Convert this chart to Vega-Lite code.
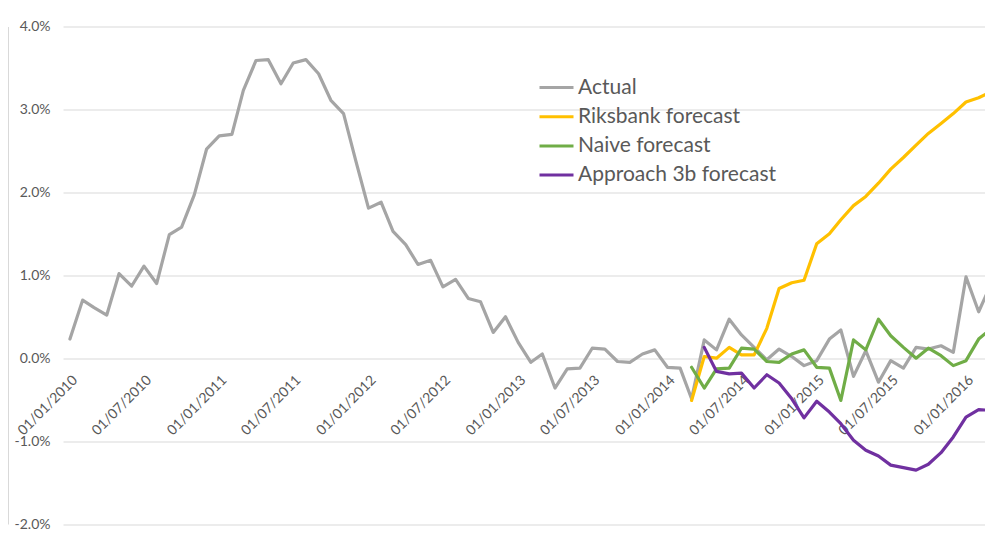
{
  "$schema": "https://vega.github.io/schema/vega-lite/v6.json",
  "width": 922,
  "height": 497.5,
  "autosize": {"type": "none"},
  "padding": {"left": 63, "top": 26.5, "right": 0, "bottom": 9},
  "background": "white",
  "config": {"view": {"stroke": null}, "font": "Lato"},
  "data": {
    "values": [
      {"date": "2010-01-01", "series": "Actual", "value": 0.23},
      {"date": "2010-02-01", "series": "Actual", "value": 0.70},
      {"date": "2010-03-01", "series": "Actual", "value": 0.61},
      {"date": "2010-04-01", "series": "Actual", "value": 0.52},
      {"date": "2010-05-01", "series": "Actual", "value": 1.02},
      {"date": "2010-06-01", "series": "Actual", "value": 0.87},
      {"date": "2010-07-01", "series": "Actual", "value": 1.11},
      {"date": "2010-08-01", "series": "Actual", "value": 0.90},
      {"date": "2010-09-01", "series": "Actual", "value": 1.49},
      {"date": "2010-10-01", "series": "Actual", "value": 1.58},
      {"date": "2010-11-01", "series": "Actual", "value": 1.97},
      {"date": "2010-12-01", "series": "Actual", "value": 2.52},
      {"date": "2011-01-01", "series": "Actual", "value": 2.68},
      {"date": "2011-02-01", "series": "Actual", "value": 2.70},
      {"date": "2011-03-01", "series": "Actual", "value": 3.23},
      {"date": "2011-04-01", "series": "Actual", "value": 3.59},
      {"date": "2011-05-01", "series": "Actual", "value": 3.60},
      {"date": "2011-06-01", "series": "Actual", "value": 3.31},
      {"date": "2011-07-01", "series": "Actual", "value": 3.56},
      {"date": "2011-08-01", "series": "Actual", "value": 3.60},
      {"date": "2011-09-01", "series": "Actual", "value": 3.43},
      {"date": "2011-10-01", "series": "Actual", "value": 3.11},
      {"date": "2011-11-01", "series": "Actual", "value": 2.95},
      {"date": "2011-12-01", "series": "Actual", "value": 2.38},
      {"date": "2012-01-01", "series": "Actual", "value": 1.81},
      {"date": "2012-02-01", "series": "Actual", "value": 1.88},
      {"date": "2012-03-01", "series": "Actual", "value": 1.53},
      {"date": "2012-04-01", "series": "Actual", "value": 1.37},
      {"date": "2012-05-01", "series": "Actual", "value": 1.13},
      {"date": "2012-06-01", "series": "Actual", "value": 1.18},
      {"date": "2012-07-01", "series": "Actual", "value": 0.86},
      {"date": "2012-08-01", "series": "Actual", "value": 0.95},
      {"date": "2012-09-01", "series": "Actual", "value": 0.72},
      {"date": "2012-10-01", "series": "Actual", "value": 0.68},
      {"date": "2012-11-01", "series": "Actual", "value": 0.31},
      {"date": "2012-12-01", "series": "Actual", "value": 0.50},
      {"date": "2013-01-01", "series": "Actual", "value": 0.19},
      {"date": "2013-02-01", "series": "Actual", "value": -0.05},
      {"date": "2013-03-01", "series": "Actual", "value": 0.05},
      {"date": "2013-04-01", "series": "Actual", "value": -0.36},
      {"date": "2013-05-01", "series": "Actual", "value": -0.13},
      {"date": "2013-06-01", "series": "Actual", "value": -0.12},
      {"date": "2013-07-01", "series": "Actual", "value": 0.12},
      {"date": "2013-08-01", "series": "Actual", "value": 0.11},
      {"date": "2013-09-01", "series": "Actual", "value": -0.04},
      {"date": "2013-10-01", "series": "Actual", "value": -0.05},
      {"date": "2013-11-01", "series": "Actual", "value": 0.05},
      {"date": "2013-12-01", "series": "Actual", "value": 0.10},
      {"date": "2014-01-01", "series": "Actual", "value": -0.11},
      {"date": "2014-02-01", "series": "Actual", "value": -0.12},
      {"date": "2014-03-01", "series": "Actual", "value": -0.49},
      {"date": "2014-04-01", "series": "Actual", "value": 0.22},
      {"date": "2014-05-01", "series": "Actual", "value": 0.10},
      {"date": "2014-06-01", "series": "Actual", "value": 0.47},
      {"date": "2014-07-01", "series": "Actual", "value": 0.28},
      {"date": "2014-08-01", "series": "Actual", "value": 0.13},
      {"date": "2014-09-01", "series": "Actual", "value": -0.02},
      {"date": "2014-10-01", "series": "Actual", "value": 0.11},
      {"date": "2014-11-01", "series": "Actual", "value": 0.02},
      {"date": "2014-12-01", "series": "Actual", "value": -0.09},
      {"date": "2015-01-01", "series": "Actual", "value": -0.03},
      {"date": "2015-02-01", "series": "Actual", "value": 0.23},
      {"date": "2015-03-01", "series": "Actual", "value": 0.34},
      {"date": "2015-04-01", "series": "Actual", "value": -0.22},
      {"date": "2015-05-01", "series": "Actual", "value": 0.09},
      {"date": "2015-06-01", "series": "Actual", "value": -0.29},
      {"date": "2015-07-01", "series": "Actual", "value": -0.03},
      {"date": "2015-08-01", "series": "Actual", "value": -0.12},
      {"date": "2015-09-01", "series": "Actual", "value": 0.13},
      {"date": "2015-10-01", "series": "Actual", "value": 0.11},
      {"date": "2015-11-01", "series": "Actual", "value": 0.15},
      {"date": "2015-12-01", "series": "Actual", "value": 0.07},
      {"date": "2016-01-01", "series": "Actual", "value": 0.98},
      {"date": "2016-02-01", "series": "Actual", "value": 0.56},
      {"date": "2016-03-01", "series": "Actual", "value": 0.88},

      {"date": "2014-03-01", "series": "Riksbank forecast", "value": -0.51},
      {"date": "2014-04-01", "series": "Riksbank forecast", "value": 0.02},
      {"date": "2014-05-01", "series": "Riksbank forecast", "value": 0.00},
      {"date": "2014-06-01", "series": "Riksbank forecast", "value": 0.13},
      {"date": "2014-07-01", "series": "Riksbank forecast", "value": 0.04},
      {"date": "2014-08-01", "series": "Riksbank forecast", "value": 0.04},
      {"date": "2014-09-01", "series": "Riksbank forecast", "value": 0.36},
      {"date": "2014-10-01", "series": "Riksbank forecast", "value": 0.84},
      {"date": "2014-11-01", "series": "Riksbank forecast", "value": 0.91},
      {"date": "2014-12-01", "series": "Riksbank forecast", "value": 0.94},
      {"date": "2015-01-01", "series": "Riksbank forecast", "value": 1.38},
      {"date": "2015-02-01", "series": "Riksbank forecast", "value": 1.50},
      {"date": "2015-03-01", "series": "Riksbank forecast", "value": 1.67},
      {"date": "2015-04-01", "series": "Riksbank forecast", "value": 1.84},
      {"date": "2015-05-01", "series": "Riksbank forecast", "value": 1.95},
      {"date": "2015-06-01", "series": "Riksbank forecast", "value": 2.11},
      {"date": "2015-07-01", "series": "Riksbank forecast", "value": 2.28},
      {"date": "2015-08-01", "series": "Riksbank forecast", "value": 2.42},
      {"date": "2015-09-01", "series": "Riksbank forecast", "value": 2.57},
      {"date": "2015-10-01", "series": "Riksbank forecast", "value": 2.71},
      {"date": "2015-11-01", "series": "Riksbank forecast", "value": 2.83},
      {"date": "2015-12-01", "series": "Riksbank forecast", "value": 2.95},
      {"date": "2016-01-01", "series": "Riksbank forecast", "value": 3.09},
      {"date": "2016-02-01", "series": "Riksbank forecast", "value": 3.14},
      {"date": "2016-03-01", "series": "Riksbank forecast", "value": 3.21},

      {"date": "2014-03-01", "series": "Naive forecast", "value": -0.11},
      {"date": "2014-04-01", "series": "Naive forecast", "value": -0.36},
      {"date": "2014-05-01", "series": "Naive forecast", "value": -0.13},
      {"date": "2014-06-01", "series": "Naive forecast", "value": -0.12},
      {"date": "2014-07-01", "series": "Naive forecast", "value": 0.12},
      {"date": "2014-08-01", "series": "Naive forecast", "value": 0.11},
      {"date": "2014-09-01", "series": "Naive forecast", "value": -0.04},
      {"date": "2014-10-01", "series": "Naive forecast", "value": -0.05},
      {"date": "2014-11-01", "series": "Naive forecast", "value": 0.05},
      {"date": "2014-12-01", "series": "Naive forecast", "value": 0.10},
      {"date": "2015-01-01", "series": "Naive forecast", "value": -0.11},
      {"date": "2015-02-01", "series": "Naive forecast", "value": -0.12},
      {"date": "2015-03-01", "series": "Naive forecast", "value": -0.51},
      {"date": "2015-04-01", "series": "Naive forecast", "value": 0.22},
      {"date": "2015-05-01", "series": "Naive forecast", "value": 0.10},
      {"date": "2015-06-01", "series": "Naive forecast", "value": 0.47},
      {"date": "2015-07-01", "series": "Naive forecast", "value": 0.27},
      {"date": "2015-08-01", "series": "Naive forecast", "value": 0.13},
      {"date": "2015-09-01", "series": "Naive forecast", "value": 0.00},
      {"date": "2015-10-01", "series": "Naive forecast", "value": 0.12},
      {"date": "2015-11-01", "series": "Naive forecast", "value": 0.03},
      {"date": "2015-12-01", "series": "Naive forecast", "value": -0.09},
      {"date": "2016-01-01", "series": "Naive forecast", "value": -0.03},
      {"date": "2016-02-01", "series": "Naive forecast", "value": 0.23},
      {"date": "2016-03-01", "series": "Naive forecast", "value": 0.35},

      {"date": "2014-04-01", "series": "Approach 3b forecast", "value": 0.13},
      {"date": "2014-05-01", "series": "Approach 3b forecast", "value": -0.16},
      {"date": "2014-06-01", "series": "Approach 3b forecast", "value": -0.19},
      {"date": "2014-07-01", "series": "Approach 3b forecast", "value": -0.18},
      {"date": "2014-08-01", "series": "Approach 3b forecast", "value": -0.36},
      {"date": "2014-09-01", "series": "Approach 3b forecast", "value": -0.20},
      {"date": "2014-10-01", "series": "Approach 3b forecast", "value": -0.30},
      {"date": "2014-11-01", "series": "Approach 3b forecast", "value": -0.49},
      {"date": "2014-12-01", "series": "Approach 3b forecast", "value": -0.72},
      {"date": "2015-01-01", "series": "Approach 3b forecast", "value": -0.52},
      {"date": "2015-02-01", "series": "Approach 3b forecast", "value": -0.65},
      {"date": "2015-03-01", "series": "Approach 3b forecast", "value": -0.79},
      {"date": "2015-04-01", "series": "Approach 3b forecast", "value": -0.99},
      {"date": "2015-05-01", "series": "Approach 3b forecast", "value": -1.11},
      {"date": "2015-06-01", "series": "Approach 3b forecast", "value": -1.18},
      {"date": "2015-07-01", "series": "Approach 3b forecast", "value": -1.29},
      {"date": "2015-08-01", "series": "Approach 3b forecast", "value": -1.32},
      {"date": "2015-09-01", "series": "Approach 3b forecast", "value": -1.35},
      {"date": "2015-10-01", "series": "Approach 3b forecast", "value": -1.28},
      {"date": "2015-11-01", "series": "Approach 3b forecast", "value": -1.14},
      {"date": "2015-12-01", "series": "Approach 3b forecast", "value": -0.95},
      {"date": "2016-01-01", "series": "Approach 3b forecast", "value": -0.71},
      {"date": "2016-02-01", "series": "Approach 3b forecast", "value": -0.62},
      {"date": "2016-03-01", "series": "Approach 3b forecast", "value": -0.63}
    ]
  },
  "mark": {"type": "line", "strokeWidth": 3.2, "strokeJoin": "round", "strokeCap": "round", "clip": true},
  "encoding": {
    "x": {
      "field": "date",
      "type": "temporal",
      "scale": {
        "type": "utc",
        "domain": [
          {"year": 2009, "month": 12, "date": 15, "utc": true},
          {"year": 2016, "month": 2, "date": 16, "hours": 12, "utc": true}
        ]
      },
      "axis": {
        "title": null,
        "format": "%d/%m/%Y",
        "tickCount": {"interval": "month", "step": 6},
        "labelAngle": -45,
        "labelAlign": "right",
        "labelBaseline": "middle",
        "labelPadding": 20,
        "labelOffset": 5,
        "labelOverlap": false,
        "labelFlush": false,
        "offset": -166.3,
        "domain": false,
        "ticks": false,
        "tickSize": 0,
        "grid": false,
        "labelFontSize": 14,
        "labelColor": "#595959"
      }
    },
    "y": {
      "field": "value",
      "type": "quantitative",
      "scale": {"domain": [-2, 4], "nice": false, "zero": false},
      "axis": {
        "title": null,
        "values": [-2, -1, 0, 1, 2, 3, 4],
        "labelExpr": "(datum.value < 0 ? '-' : '') + format(abs(datum.value), '.1f') + '%'",
        "grid": true,
        "gridColor": "#d9d9d9",
        "gridWidth": 1,
        "domain": true,
        "domainColor": "#d9d9d9",
        "domainWidth": 1,
        "offset": 55,
        "ticks": false,
        "tickSize": 0,
        "labelPadding": -42,
        "labelAlign": "right",
        "labelBaseline": "middle",
        "labelFontSize": 14,
        "labelColor": "#595959"
      }
    },
    "color": {
      "field": "series",
      "type": "nominal",
      "scale": {
        "domain": ["Actual", "Riksbank forecast", "Naive forecast", "Approach 3b forecast"],
        "range": ["#a5a5a5", "#ffc000", "#70ad47", "#7030a0"]
      },
      "legend": {
        "title": null,
        "orient": "none",
        "legendX": 483,
        "legendY": 50.5,
        "symbolType": "M-2,0H2",
        "symbolSize": 289,
        "symbolStrokeWidth": 3,
        "labelFontSize": 21,
        "labelColor": "#595959",
        "labelOffset": 11,
        "labelLimit": 0,
        "rowPadding": 7.2
      }
    }
  }
}
